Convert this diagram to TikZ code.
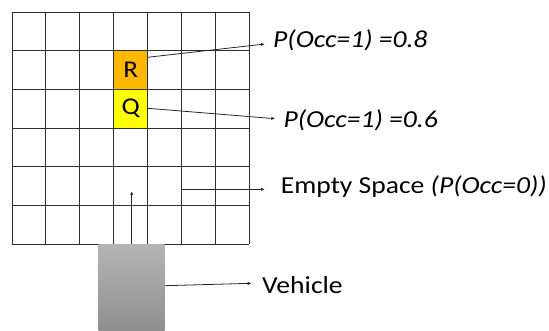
\documentclass[tikz,border=0pt]{standalone}
\usepackage{fontspec}
\setmainfont{Carlito}
\usetikzlibrary{arrows.meta}
\definecolor{gridline}{HTML}{2E2E2E}
\definecolor{rcol}{HTML}{FFB800}
\definecolor{qcol}{HTML}{FFFF00}
\newcommand{\wide}[1]{\scalebox{1.13}[1]{#1}}
\tikzset{
  gridl/.style={draw=gridline, line width=0.9pt},
  cellbox/.style={draw=gridline, line width=0.9pt, minimum width=33.9pt, minimum height=38.7pt, inner sep=0pt, font=\fontsize{24}{28}\selectfont},
  arr/.style={-{Latex[length=4pt,width=3.2pt]}, line width=0.8pt, draw=black!85},
  lbl/.style={anchor=west, inner sep=0pt, font=\fontsize{24.4}{28}\selectfont},
}
\begin{document}
\begin{tikzpicture}[x=1pt,y=1pt]
\useasboundingbox (0,0) rectangle (549,331);
% cells
\node[cellbox, fill=rcol] (R) at (130.65,260.95) {\wide{R}};
\node[cellbox, fill=qcol] (Q) at (130.65,222.25) {\wide{Q}};
% grid
\foreach \i in {0,...,7} {
  \draw[gridl] (12+\i*33.9,86.8) -- (12+\i*33.9,319);
}
\foreach \j in {0,...,6} {
  \draw[gridl] (12,86.8+\j*38.7) -- (249.3,86.8+\j*38.7);
}
% vehicle
\node[minimum width=66pt, minimum height=86.8pt, inner sep=0pt, top color=black!29, bottom color=black!44, draw=none] (V) at (131.7,43.4) {};
\coordinate (vtip) at (131.7,140);
\draw[arr] (V.north) -- (vtip);
% labels
\node[lbl] (t1) at (273,290.5) {\wide{\itshape P(Occ=1) =0.8}};
\node[lbl] (t2) at (283.3,210.3) {\wide{\itshape P(Occ=1) =0.6}};
\node[lbl] (t3) at (280.7,144) {\wide{Empty Space \itshape(P(Occ=0))}};
\node[lbl] (t4) at (262,46) {\wide{Vehicle}};
% arrows
\coordinate (rs) at (147.6,273.7);
\coordinate (qs) at (147.6,222.7);
\coordinate (es) at (181.7,141.7);
\coordinate (vs) at (164.7,45.3);
\draw[arr] (rs) -- ([xshift=-8pt,yshift=-3.5pt]t1.west);
\draw[arr] (qs) -- ([xshift=-8pt,yshift=2pt]t2.west);
\draw[arr] (es) -- ([xshift=-15.7pt,yshift=-2.3pt]t3.west);
\draw[arr] (V.east |- vs) -- ([xshift=-10.3pt,yshift=1.7pt]t4.west);
\end{tikzpicture}
\end{document}
